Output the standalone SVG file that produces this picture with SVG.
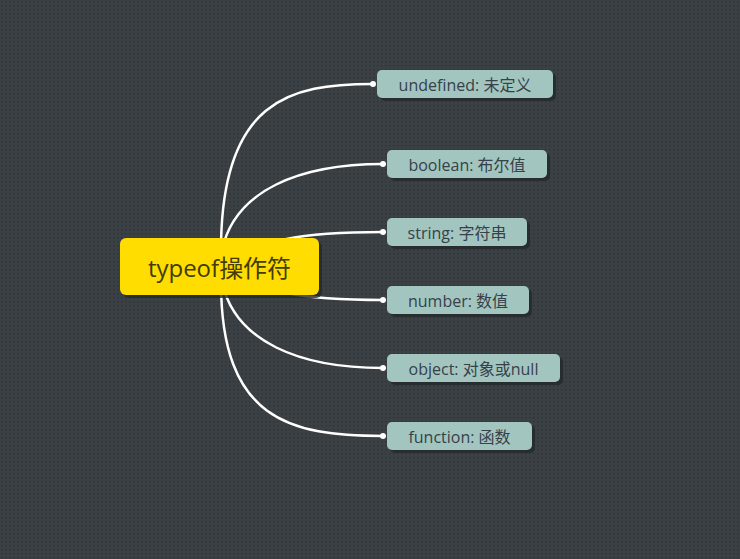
<svg xmlns="http://www.w3.org/2000/svg" width="740" height="559" viewBox="0 0 740 559">
<defs>
<pattern id="dots" width="4" height="4" patternUnits="userSpaceOnUse">
<rect width="4" height="4" fill="#3a4044"/>
<rect x="1" y="1" width="1.5" height="1.5" fill="#2f3438"/>
</pattern>
<style>
.conn{fill:none;stroke:#ffffff;stroke-width:2.5;stroke-linecap:round}
.dot{fill:#ffffff}
.shadow{fill:#24282b;opacity:0.8}
.child{fill:#a3c5bf}
.ctext{font-family:"Open Sans","Noto Sans CJK SC",sans-serif;font-size:16px;fill:#36414a;text-anchor:middle;dominant-baseline:central}
.rtext{font-family:"Open Sans","Noto Sans CJK SC",sans-serif;font-size:24px;fill:#433c05;text-anchor:middle;dominant-baseline:central}
</style>
</defs>
<rect width="740" height="559" fill="url(#dots)"/>
<g id="connectors">
<path class="conn" d="M221,250 C221,100 290,84 373,84"/>
<path class="conn" d="M222,250 C235,190 300,164 383,164"/>
<path class="conn" d="M219,266 C260,240 300,232 383,232"/>
<path class="conn" d="M219,266 C260,292 300,300 383,300"/>
<path class="conn" d="M222,282 C235,342 300,368 383,368"/>
<path class="conn" d="M221,282 C221,420 290,436 383,436"/>
<circle class="dot" cx="373" cy="84" r="3"/>
<circle class="dot" cx="383" cy="164" r="3"/>
<circle class="dot" cx="383" cy="232" r="3"/>
<circle class="dot" cx="383" cy="300" r="3"/>
<circle class="dot" cx="383" cy="368" r="3"/>
<circle class="dot" cx="383" cy="436" r="3"/>
</g>
<g id="root">
<rect class="shadow" x="123" y="241" width="199" height="57" rx="6"/>
<rect x="120" y="238" width="199" height="57" rx="6" fill="#ffdd00"/>
<text class="rtext" x="219.5" y="267">typeof操作符</text>
</g>
<g id="n-undefined">
<rect class="shadow" x="380" y="73" width="176" height="28" rx="5"/>
<rect class="child" x="377" y="70" width="176" height="28" rx="5"/>
<text class="ctext" x="465" y="84.5">undefined: 未定义</text>
</g>
<g id="n-boolean">
<rect class="shadow" x="390" y="153" width="160" height="28" rx="5"/>
<rect class="child" x="387" y="150" width="160" height="28" rx="5"/>
<text class="ctext" x="467" y="164.5">boolean: 布尔值</text>
</g>
<g id="n-string">
<rect class="shadow" x="390" y="221" width="140" height="28" rx="5"/>
<rect class="child" x="387" y="218" width="140" height="28" rx="5"/>
<text class="ctext" x="457" y="232.5">string: 字符串</text>
</g>
<g id="n-number">
<rect class="shadow" x="390" y="289" width="142" height="28" rx="5"/>
<rect class="child" x="387" y="286" width="142" height="28" rx="5"/>
<text class="ctext" x="458" y="300.5">number: 数值</text>
</g>
<g id="n-object">
<rect class="shadow" x="390" y="357" width="173" height="28" rx="5"/>
<rect class="child" x="387" y="354" width="173" height="28" rx="5"/>
<text class="ctext" x="473.5" y="368.5">object: 对象或null</text>
</g>
<g id="n-function">
<rect class="shadow" x="390" y="425" width="145" height="28" rx="5"/>
<rect class="child" x="387" y="422" width="145" height="28" rx="5"/>
<text class="ctext" x="459.5" y="436.5">function: 函数</text>
</g>
</svg>
